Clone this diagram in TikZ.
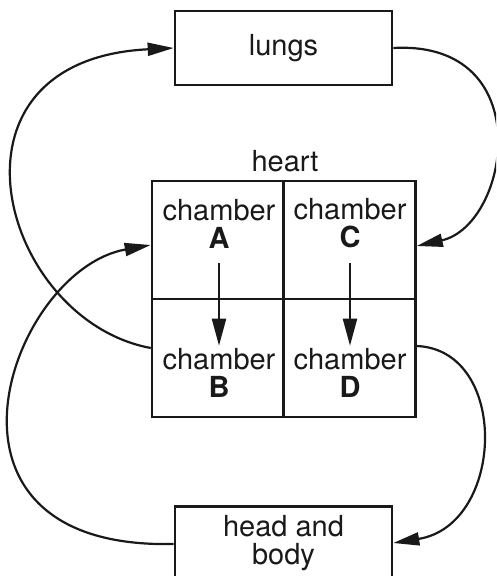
\documentclass[tikz,border=0pt]{standalone}
\usepackage{fontspec}
\setmainfont{TeX Gyre Heros}
\usetikzlibrary{arrows.meta,calc}
\tikzset{
  boxsty/.style={draw=black!90, line width=2.6pt, inner sep=0pt},
  cellsty/.style={draw=black!90, line width=2.6pt, minimum width=132pt, minimum height=118pt, inner sep=0pt},
  txt/.style={font=\fontsize{29pt}{28pt}\selectfont, align=center, inner sep=0pt, text=black!90},
  flow/.style={draw=black!90, line width=2.2pt, -{Triangle[length=26pt,width=13pt]}},
  inner/.style={draw=black!90, line width=2.2pt, -{Triangle[length=27pt,width=14pt]}}
}
\begin{document}
\begin{tikzpicture}[x=1pt,y=-1pt]
\useasboundingbox (0,0) rectangle (496,576);
\clip (0,0) rectangle (496,576);
% lungs
\node[boxsty, minimum width=217pt, minimum height=74pt] (lungs) at (283.5,48) {};
\node[txt] (lungstxt) at (lungs.center) {lungs};
% heart cells
\node[cellsty] (cellA) at (218,240) {};
\node[cellsty] (cellC) at (349.5,240) {};
\node[cellsty] (cellB) at (218,358) {};
\node[cellsty] (cellD) at (349.5,358) {};
\node[txt, anchor=base] (heartlbl) at (285,171) {heart};
\node[txt] (tA) at (219,223.5) {chamber\\\textbf{A}};
\node[txt] (tC) at (350,223.5) {chamber\\\textbf{C}};
\node[txt] (tB) at (219,372.5) {chamber\\\textbf{B}};
\node[txt] (tD) at (350,372.5) {chamber\\\textbf{D}};
\draw[inner, shorten <=15pt, shorten >=2pt] (tA.south) -- (tB.north);
\draw[inner, shorten <=15pt, shorten >=2pt] (tC.south) -- (tD.north);
% head and body
\node[boxsty, minimum width=217pt, minimum height=100pt, anchor=north] (hb) at (283.5,505) {};
\node[txt] (hbtxt) at (283.5,543) {head and\\body};
% connectors
\draw[flow] (lungs.east) .. controls (540,40) and (510,225) .. ($(cellC.east)+(0,6)$);
\draw[flow] ($(cellB.west)+(0,-10)$) .. controls (0,320) and (-70,60) .. (lungs.west);
\draw[flow] ($(hb.north west)+(0,39)$) .. controls (-90,550) and (10,270) .. ($(cellA.west)+(0,5)$);
\draw[flow] ($(cellD.east)+(0,-12)$) .. controls (510,350) and (505,525) .. ($(hb.north east)+(0,38)$);
\end{tikzpicture}
\end{document}
